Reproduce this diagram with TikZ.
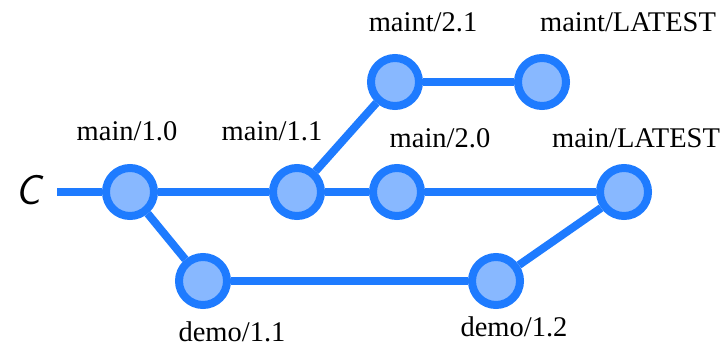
\documentclass[tikz,border=0pt]{standalone}
\usepackage{fontspec}
\newfontfamily\tagfont{Liberation Serif}
\begin{document}
\begin{tikzpicture}[x=1pt,y=-1pt,
  commit/.style={circle,draw=branchblue,fill=commitfill,line width=8pt,minimum size=48pt,inner sep=0pt},
  branch/.style={draw=branchblue,line width=8pt},
  tag/.style={font=\tagfont\fontsize{28.5}{32}\selectfont,inner sep=0pt}]
\definecolor{branchblue}{HTML}{1E7BFF}
\definecolor{commitfill}{HTML}{88B8FF}
\useasboundingbox (0,0) rectangle (727,347);

% commits
\node[commit] (m10) at (130,192) {};
\node[commit] (m11) at (297,192) {};
\node[commit] (m20) at (397,192) {};
\node[commit] (mL)  at (624,192) {};
\node[commit] (t21) at (395,82) {};
\node[commit] (tL)  at (542,82) {};
\node[commit] (d11) at (203,281) {};
\node[commit] (d12) at (496,281) {};

% origin
\node[font=\fontsize{42}{42}\selectfont\sffamily\itshape,inner sep=0pt] (c) at (28,190) {C};
\coordinate (c0) at (57,192);

% history lines
\draw[branch] (c0) -- (m10);
\draw[branch] (m10) -- (m11);
\draw[branch] (m11) -- (m20);
\draw[branch] (m20) -- (mL);
\draw[branch] (m11) -- (t21);
\draw[branch] (t21) -- (tL);
\draw[branch] (m10) -- (d11);
\draw[branch] (d11) -- (d12);
\draw[branch] (d12) -- (mL);

% labels
\node[tag] (l10) at (127,131) {main/1.0};
\node[tag] (l11) at (272,131) {main/1.1};
\node[tag] (l20) at (440,138) {main/2.0};
\node[tag] (lL)  at (636,138) {main/LATEST};
\node[tag] (l21) at (423,22) {maint/2.1};
\node[tag] (ltL) at (628,22) {maint/LATEST};
\node[tag] (ld11) at (232,332) {demo/1.1};
\node[tag] (ld12) at (514,327) {demo/1.2};
\end{tikzpicture}
\end{document}
